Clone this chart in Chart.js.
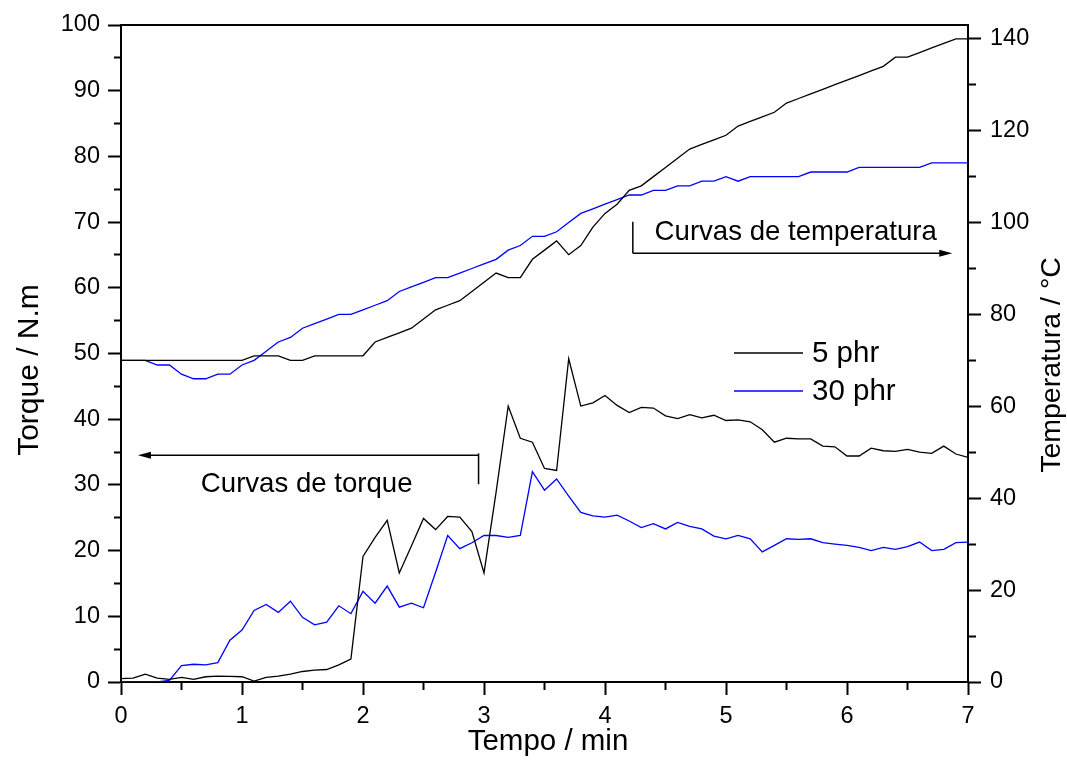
<!DOCTYPE html>
<html>
<head>
<meta charset="utf-8">
<script src="https://cdn.jsdelivr.net/npm/chart.js@4.4.1/dist/chart.umd.min.js"></script>
<style>
  html, body { margin: 0; padding: 0; background: #fff; }
</style>
</head>
<body>
<canvas id="torqueChart" width="1067" height="763"></canvas>
<script>
// Tempo (min)
const time = [0, 0.1, 0.2, 0.3, 0.4, 0.5, 0.6, 0.7, 0.8, 0.9,
  1, 1.1, 1.2, 1.3, 1.4, 1.5, 1.6, 1.7, 1.8, 1.9,
  2, 2.1, 2.2, 2.3, 2.4, 2.5, 2.6, 2.7, 2.8, 2.9,
  3, 3.1, 3.2, 3.3, 3.4, 3.5, 3.6, 3.7, 3.8, 3.9,
  4, 4.1, 4.2, 4.3, 4.4, 4.5, 4.6, 4.7, 4.8, 4.9,
  5, 5.1, 5.2, 5.3, 5.4, 5.5, 5.6, 5.7, 5.8, 5.9,
  6, 6.1, 6.2, 6.3, 6.4, 6.5, 6.6, 6.7, 6.8, 6.9, 7];

// Torque (N.m)
const torque5 = [0.5, 0.6, 1.2, 0.6, 0.4, 0.7, 0.4, 0.8, 0.9, 0.85,
  0.8, 0.15, 0.7, 0.9, 1.2, 1.6, 1.8, 1.9, 2.6, 3.5,
  19.1, 22.0, 24.6, 16.6, 20.7, 24.9, 23.2, 25.2, 25.1, 22.9,
  16.6, 28.9, 42.0, 37.1, 36.5, 32.5, 32.2, 49.2, 42.0, 42.5,
  43.6, 42.1, 41.0, 41.8, 41.7, 40.5, 40.1, 40.7, 40.2, 40.6,
  39.8, 39.9, 39.6, 38.4, 36.5, 37.1, 37.0, 37.0, 35.9, 35.8,
  34.4, 34.4, 35.6, 35.2, 35.1, 35.4, 35.0, 34.8, 35.9, 34.7, 34.2];
const torque30 = [0, 0, 0, 0, 0.25, 2.5, 2.7, 2.6, 2.95, 6.35,
  7.9, 10.9, 11.8, 10.6, 12.3, 9.85, 8.7, 9.1, 11.6, 10.4,
  13.8, 12.0, 14.6, 11.4, 12.0, 11.3, 16.7, 22.3, 20.3, 21.2,
  22.3, 22.3, 22.0, 22.3, 32.0, 29.2, 30.9, 28.3, 25.8, 25.3,
  25.1, 25.4, 24.5, 23.5, 24.1, 23.3, 24.3, 23.7, 23.3, 22.2,
  21.8, 22.3, 21.8, 19.8, 20.8, 21.8, 21.7, 21.8, 21.2, 21.0,
  20.8, 20.5, 20.0, 20.5, 20.2, 20.6, 21.3, 20.0, 20.2, 21.2, 21.3];

// Temperatura (°C)
const temp5 = [70, 70, 70, 70, 70, 70, 70, 70, 70, 70,
  70, 71, 71, 71, 70, 70, 71, 71, 71, 71,
  71, 74, 75, 76, 77, 79, 81, 82, 83, 85,
  87, 89, 88, 88, 92, 94, 96, 93, 95, 99,
  102, 104, 107, 108, 110, 112, 114, 116, 117, 118,
  119, 121, 122, 123, 124, 126, 127, 128, 129, 130,
  131, 132, 133, 134, 136, 136, 137, 138, 139, 140, 140];
const temp30 = [70, 70, 70, 69, 69, 67, 66, 66, 67, 67,
  69, 70, 72, 74, 75, 77, 78, 79, 80, 80,
  81, 82, 83, 85, 86, 87, 88, 88, 89, 90,
  91, 92, 94, 95, 97, 97, 98, 100, 102, 103,
  104, 105, 106, 106, 107, 107, 108, 108, 109, 109,
  110, 109, 110, 110, 110, 110, 110, 111, 111, 111,
  111, 112, 112, 112, 112, 112, 112, 113, 113, 113, 113];

const seriesNames = ['5 phr', '30 phr'];
const seriesColors = ['#000000', '#0000ff'];

const FONT = 'Liberation Sans, Arial, Helvetica, sans-serif';
Chart.defaults.font.family = FONT;
Chart.defaults.color = '#000';

const toPoints = (ys) => time.map((t, i) => ({ x: t, y: ys[i] }));

// minor ticks: same tick, but only a short dash of it is painted
function tickDash(isMajor, fromOutside) {
  return (ctx) => {
    if (!ctx.tick || isMajor(ctx.tick.value)) return [];
    return fromOutside ? [0, 6, 7, 40] : [7, 40];
  };
}
const near = (v, step) => Math.abs(v / step - Math.round(v / step)) < 1e-6;

// arrows, notes, titles and legend
const notes = {
  id: 'notes',
  afterDraw(chart) {
    const { ctx } = chart;
    const x = chart.scales.x, yT = chart.scales.y, yC = chart.scales.y2;

    function arrow(x1, y1, x2, y2) {
      const a = Math.atan2(y2 - y1, x2 - x1);
      ctx.beginPath();
      ctx.moveTo(x1, y1);
      ctx.lineTo(x2 - 10 * Math.cos(a), y2 - 10 * Math.sin(a));
      ctx.stroke();
      ctx.beginPath();
      ctx.moveTo(x2, y2);
      ctx.lineTo(x2 - 13 * Math.cos(a) + 3.5 * Math.sin(a), y2 - 13 * Math.sin(a) - 3.5 * Math.cos(a));
      ctx.lineTo(x2 - 13 * Math.cos(a) - 3.5 * Math.sin(a), y2 - 13 * Math.sin(a) + 3.5 * Math.cos(a));
      ctx.closePath();
      ctx.fill();
    }

    ctx.save();
    ctx.strokeStyle = '#000';
    ctx.fillStyle = '#000';
    ctx.lineWidth = 1.5;

    // Curvas de torque
    let px = x.getPixelForValue(2.955);
    ctx.beginPath();
    ctx.moveTo(px, yT.getPixelForValue(30.1));
    ctx.lineTo(px, yT.getPixelForValue(34.8));
    ctx.stroke();
    arrow(px, yT.getPixelForValue(34.5), x.getPixelForValue(0.14), yT.getPixelForValue(34.5));

    // Curvas de temperatura
    px = x.getPixelForValue(4.23);
    ctx.beginPath();
    ctx.moveTo(px, yC.getPixelForValue(100.2));
    ctx.lineTo(px, yC.getPixelForValue(93.3));
    ctx.stroke();
    arrow(px, yC.getPixelForValue(93.3), x.getPixelForValue(6.87), yC.getPixelForValue(93.3));

    ctx.font = '27.6px ' + FONT;
    ctx.textAlign = 'left';
    ctx.textBaseline = 'alphabetic';
    ctx.fillText('Curvas de torque', x.getPixelForValue(0.66), yT.getPixelForValue(28.9));
    ctx.fillText('Curvas de temperatura', x.getPixelForValue(4.41), yC.getPixelForValue(96.3));

    // axis titles
    ctx.textAlign = 'center';
    ctx.textBaseline = 'middle';
    ctx.font = '29.5px ' + FONT;
    ctx.fillText('Tempo / min', 548, 742);
    ctx.save();
    ctx.translate(30, 370);
    ctx.rotate(-Math.PI / 2);
    ctx.font = '30px ' + FONT;
    ctx.fillText('Torque / N.m', 0, 0);
    ctx.restore();
    ctx.save();
    ctx.translate(1052, 365);
    ctx.rotate(-Math.PI / 2);
    ctx.font = '28.5px ' + FONT;
    ctx.fillText('Temperatura / °C', 0, 0);
    ctx.restore();

    // legend
    ctx.font = '29.5px ' + FONT;
    ctx.textAlign = 'left';
    seriesNames.forEach((name, i) => {
      const ly = 353 + i * 38;
      ctx.strokeStyle = seriesColors[i];
      ctx.lineWidth = 1.3;
      ctx.beginPath();
      ctx.moveTo(734, ly);
      ctx.lineTo(803, ly);
      ctx.stroke();
      ctx.fillStyle = '#000';
      ctx.fillText(name, 812, ly + 1);
    });
    ctx.restore();
  }
};

const lineStyle = (color) => ({
  borderColor: color,
  backgroundColor: color,
  borderWidth: 1.3,
  pointRadius: 0,
  tension: 0,
  fill: false
});

new Chart(document.getElementById('torqueChart'), {
  type: 'line',
  data: {
    datasets: [
      { label: seriesNames[0], data: toPoints(torque5), yAxisID: 'y', ...lineStyle(seriesColors[0]) },
      { label: seriesNames[1], data: toPoints(torque30), yAxisID: 'y', ...lineStyle(seriesColors[1]) },
      { label: seriesNames[0] + ' T', data: toPoints(temp5), yAxisID: 'y2', ...lineStyle(seriesColors[0]) },
      { label: seriesNames[1] + ' T', data: toPoints(temp30), yAxisID: 'y2', ...lineStyle(seriesColors[1]) }
    ]
  },
  options: {
    responsive: false,
    animation: false,
    layout: { padding: 0 },
    plugins: { legend: { display: false }, tooltip: { enabled: false } },
    scales: {
      x: {
        type: 'linear', position: 'bottom', min: 0, max: 7,
        ticks: {
          stepSize: 0.5, autoSkip: false, maxRotation: 0, padding: 7,
          font: { size: 23.5 }, color: '#000',
          callback: (v) => near(v, 1) ? Math.round(v) : ''
        },
        grid: {
          drawOnChartArea: false, tickLength: 13, tickWidth: 2, tickColor: '#000',
          tickBorderDash: tickDash((v) => near(v, 1), false)
        },
        border: { color: '#000', width: 2 },
        afterFit: (s) => { s.height = 81; }
      },
      xTop: {
        type: 'linear', position: 'top', min: 0, max: 7,
        ticks: { display: false },
        grid: { drawOnChartArea: false, drawTicks: false },
        border: { color: '#000', width: 2 },
        afterFit: (s) => { s.height = 25; }
      },
      y: {
        type: 'linear', position: 'left', min: 0, max: 100,
        ticks: {
          stepSize: 5, autoSkip: false, padding: 8,
          font: { size: 23.5 }, color: '#000',
          callback: (v) => near(v, 10) ? v : ''
        },
        grid: {
          drawOnChartArea: false, tickLength: 13, tickWidth: 2, tickColor: '#000',
          tickBorderDash: tickDash((v) => near(v, 10), true)
        },
        border: { color: '#000', width: 2 },
        afterFit: (s) => { s.width = 121; }
      },
      y2: {
        type: 'linear', position: 'right', min: 0, max: 143,
        ticks: {
          stepSize: 10, autoSkip: false, padding: 9, includeBounds: false,
          font: { size: 23.5 }, color: '#000',
          callback: (v) => near(v, 20) ? v : ''
        },
        grid: {
          drawOnChartArea: false, tickLength: 13, tickWidth: 2,
          tickColor: (ctx) => ctx.tick && near(ctx.tick.value, 10) ? '#000' : 'rgba(0,0,0,0)',
          tickBorderDash: tickDash((v) => near(v, 20), false)
        },
        border: { color: '#000', width: 2 },
        afterFit: (s) => { s.width = 99; }
      }
    }
  },
  plugins: [notes]
});
</script>
</body>
</html>
